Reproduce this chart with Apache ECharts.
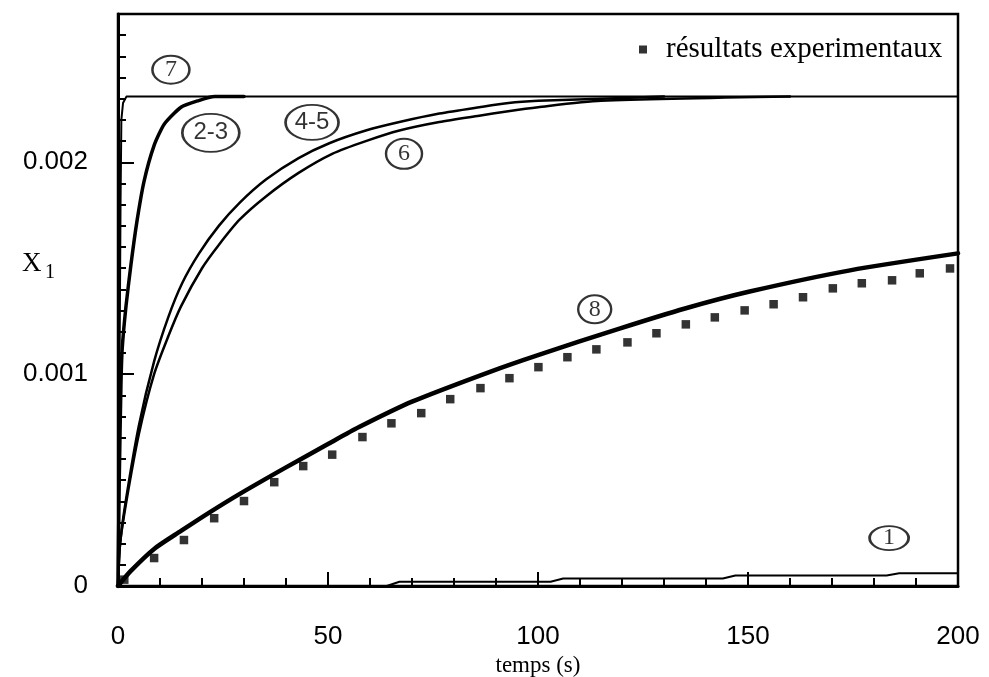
<!DOCTYPE html>
<html><head><meta charset="utf-8">
<script src="https://cdn.jsdelivr.net/npm/echarts@6.0.0/dist/echarts.min.js"></script>
<style>html,body{margin:0;padding:0;background:#fff}#c{width:989px;height:677px}</style>
</head><body><div id="c"></div>
<script>
// ---- data ----
const xTicks = [0, 50, 100, 150, 200];
const yTicks = [0, 0.001, 0.002];

const t1 = [0, 64, 67, 103, 106, 144, 147, 183, 186, 200];
const x1 = [0, 0, 0.00002, 0.00002, 0.000035, 0.000035, 0.00005, 0.00005, 0.00006, 0.00006];

const t23 = [0, 0.3, 0.7, 1.0, 1.9, 3.1, 4.5, 6.2, 8.6, 11, 15, 19, 23, 30];
const x23 = [0, 0.0005, 0.00095, 0.00112, 0.00132, 0.00152, 0.00172, 0.00191, 0.00208, 0.00218, 0.00226, 0.00229, 0.00231, 0.00231];

const t45 = [0, 0.5, 2, 5, 8.6, 12, 15.3, 19.3, 24, 29, 35.3, 43, 50.3, 59, 67, 76.5, 86, 93, 100, 115, 130];
const x45 = [0, 0.0002, 0.00042, 0.00076, 0.00106, 0.00127, 0.00143, 0.00157, 0.0017, 0.00181, 0.00192, 0.00202, 0.00209, 0.00215, 0.00219, 0.00223, 0.00226, 0.00228, 0.00229, 0.0023, 0.00231];

const t6 = [0, 0.5, 2, 5, 8.6, 12, 15, 20, 24, 29, 35.3, 43, 51, 59, 67, 76.5, 86, 92.5, 100, 115, 160];
const x6 = [0, 0.0002, 0.0004, 0.00072, 0.001, 0.00118, 0.00132, 0.0015, 0.00161, 0.00173, 0.00184, 0.00195, 0.00204, 0.0021, 0.00215, 0.00219, 0.00222, 0.00224, 0.00226, 0.00229, 0.00231];

const t7 = [0, 0.3, 0.6, 0.8, 1.2, 2, 200];
const x7 = [0, 0.0008, 0.0018, 0.0022, 0.00228, 0.00231, 0.00231];

const t8 = [0, 3, 8.6, 15, 22, 29, 40, 50, 57.4, 70, 88.4, 100, 119.4, 135, 150.4, 174.3, 200];
const x8 = [0, 0.00007, 0.000175, 0.00026, 0.00035, 0.000435, 0.00056, 0.00067, 0.00075, 0.00087, 0.00101, 0.00109, 0.001215, 0.00131, 0.00139, 0.00149, 0.00157];

const tExp = [1.5, 8.6, 15.7, 22.9, 30.0, 37.2, 44.1, 51.0, 58.2, 65.1, 72.2, 79.1, 86.3, 93.2, 100.1, 107.0, 113.9, 121.3, 128.2, 135.2, 142.1, 149.2, 156.1, 163.1, 170.2, 177.1, 184.3, 190.9, 198.1];
const xExp = [0.00003, 0.000132, 0.000217, 0.00032, 0.000401, 0.00049, 0.000566, 0.00062, 0.000703, 0.000768, 0.000816, 0.000882, 0.000934, 0.000981, 0.001033, 0.00108, 0.001117, 0.00115, 0.001193, 0.001235, 0.001268, 0.001301, 0.00133, 0.001363, 0.001405, 0.001429, 0.001443, 0.001476, 0.001499];

const annoText = ['7', '2-3', '4-5', '6', '8', '1'];
const annoT = [12.6, 22.1, 46.2, 68.1, 113.5, 183.6];
const annoX = [0.002437, 0.002139, 0.002188, 0.00204, 0.001306, 0.000226];

const legendName = 'résultats experimentaux';

// ---- styles ----
const annoSize = [[37, 28], [57, 38], [53, 35], [36, 30], [33, 28], [39, 24]];
const annoFont = ['Liberation Serif', 'Liberation Sans', 'Liberation Sans', 'Liberation Serif', 'Liberation Serif', 'Liberation Serif'];

const zip = (a, b) => a.map((v, i) => [v, b[i]]);

function curve(name, t, x, width, smooth) {
  return {
    name: name, type: 'line', data: zip(t, x), showSymbol: false, symbol: 'none',
    smooth: smooth, silent: true, z: 3,
    lineStyle: { color: '#000', width: width, cap: 'round', join: 'round' }
  };
}

const chart = echarts.init(document.getElementById('c'), null, { renderer: 'canvas' });
const sansLbl = { color: '#000', fontFamily: 'Liberation Sans', fontSize: 26 };

chart.setOption({
  animation: false,
  backgroundColor: '#fff',
  grid: { left: 118, right: 31, top: 14, bottom: 91, outerBoundsMode: 'none', containLabel: false,
    show: true, borderColor: '#000', borderWidth: 2.5, backgroundColor: 'transparent' },
  legend: {
    data: [{ name: legendName, icon: 'rect' }],
    left: 634, top: 30, itemWidth: 8, itemHeight: 8, itemGap: 4,
    selectedMode: false,
    textStyle: { color: '#000', fontFamily: 'Liberation Serif', fontSize: 29, padding: [0, 0, 0, 14] }
  },
  xAxis: [
    {
      type: 'value', min: 0, max: 200, interval: 50, position: 'bottom',
      axisLine: { show: true, onZero: false, lineStyle: { color: '#000', width: 3 } },
      axisTick: { show: true, inside: true, length: 14, lineStyle: { color: '#000', width: 2 } },
      axisLabel: Object.assign({ margin: 38, formatter: v => xTicks.includes(v) ? String(v) : '' }, sansLbl),
      splitLine: { show: false },
      name: 'temps (s)', nameLocation: 'middle', nameGap: 62,
      nameTextStyle: { color: '#000', fontFamily: 'Liberation Serif', fontSize: 23 }
    },
    {
      type: 'value', min: 0, max: 200, interval: 10, position: 'bottom',
      axisLine: { show: false, onZero: false },
      axisTick: { show: true, inside: true, length: 8, lineStyle: { color: '#000', width: 2 } },
      axisLabel: { show: false }, splitLine: { show: false }
    }
  ],
  yAxis: [
    {
      type: 'value', min: 0, max: 0.0027, interval: 0.001, position: 'left',
      axisLine: { show: true, onZero: false, lineStyle: { color: '#000', width: 3 } },
      axisTick: { show: true, inside: true, length: 16, lineStyle: { color: '#000', width: 2 } },
      axisLabel: Object.assign({ margin: 30, showMaxLabel: false,
        formatter: v => { const k = yTicks.findIndex(y => Math.abs(y - v) < 1e-9); return k < 0 ? '' : (k === 0 ? '0' : yTicks[k].toFixed(3)); } }, sansLbl),
      splitLine: { show: false }
    },
    {
      type: 'value', min: 0, max: 0.0027, interval: 0.0001, position: 'left',
      axisLine: { show: false, onZero: false },
      axisTick: { show: true, inside: true, length: 8, lineStyle: { color: '#000', width: 2 } },
      axisLabel: { show: false }, splitLine: { show: false }
    }
  ],
  graphic: [
    { type: 'text', left: 22, top: 250, style: { text: 'X', fill: '#000', font: '27px "Liberation Serif"' } },
    { type: 'text', left: 45, top: 263, style: { text: '1', fill: '#000', font: '20px "Liberation Serif"' } }
  ],
  series: [
    curve('1', t1, x1, 2, false),
    curve('7', t7, x7, 2, false),
    curve('4-5', t45, x45, 2.5, 0.25),
    curve('6', t6, x6, 2.5, 0.25),
    curve('2-3', t23, x23, 3.5, 0.2),
    curve('8', t8, x8, 4.5, 0.25),
    {
      name: legendName, type: 'scatter', data: zip(tExp, xExp), symbol: 'rect', symbolSize: 8.5,
      itemStyle: { color: '#000' }, z: 4, silent: true
    },
    {
      name: 'labels', type: 'scatter', silent: true, z: 5,
      data: annoT.map((t, i) => ({
        value: [t, annoX[i]], symbol: 'circle', symbolSize: annoSize[i],
        label: { show: true, position: 'inside', formatter: annoText[i], color: '#000', fontFamily: annoFont[i], fontSize: 24 }
      })),
      itemStyle: { color: '#fff', borderColor: '#000', borderWidth: 2.2 }
    }
  ]
});
</script></body></html>
